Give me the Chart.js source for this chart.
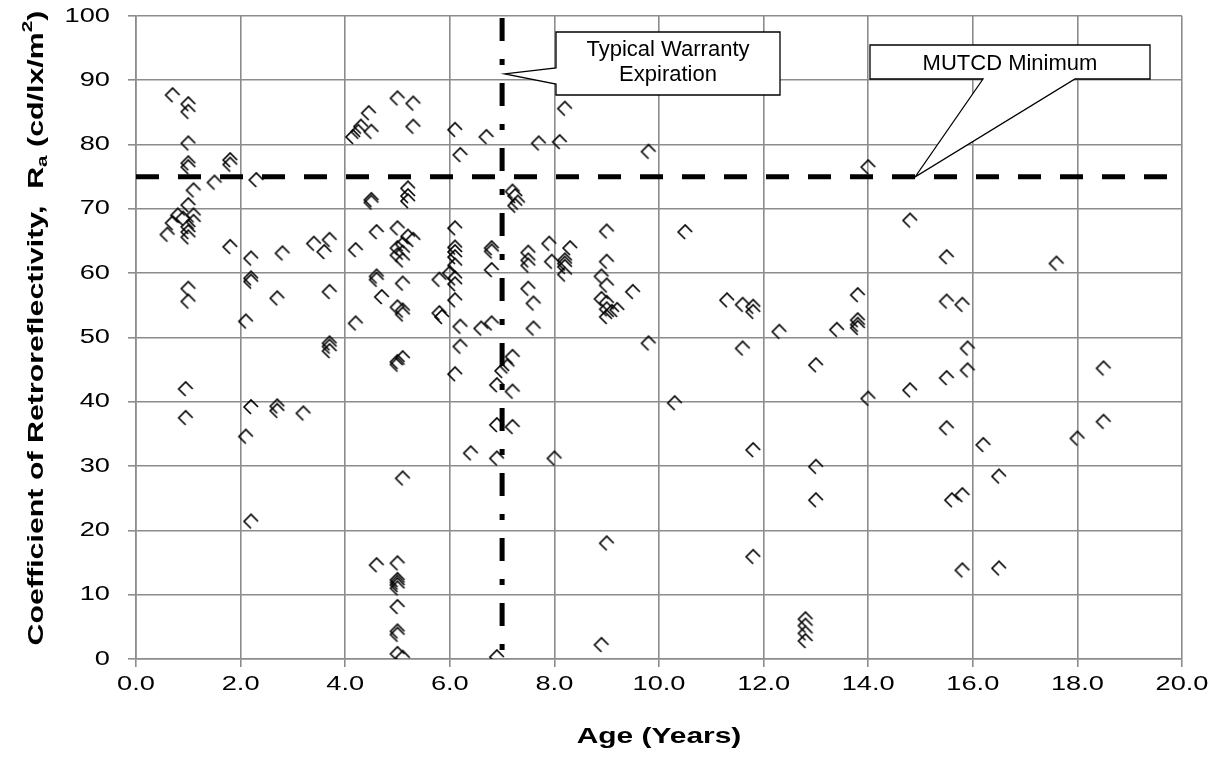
<!DOCTYPE html>
<html>
<head>
<meta charset="utf-8">
<script src="https://cdn.jsdelivr.net/npm/chart.js@4/dist/chart.umd.min.js"></script>
<style>
  html, body { margin: 0; padding: 0; background: #fff; }
  #wrap { width: 1220px; height: 769px; }
</style>
</head>
<body>
<div id="wrap"><canvas id="retroChart"></canvas></div>
<script>
const ageYears = [
  0.7, 1.0, 1.0, 1.0, 1.0, 1.0, 1.1, 1.0, 0.8, 0.7, 0.6, 0.9, 1.0, 1.0, 1.0, 1.1, 1.1, 1.0, 1.0, 0.95, 0.95,
  1.5, 1.8, 1.8, 2.3, 1.8, 2.2, 2.8, 2.2, 2.2, 2.7, 2.1, 2.2, 2.7, 2.7, 3.2, 2.1, 2.2,
  3.4, 3.7, 3.6, 3.7, 3.7, 3.7, 3.7, 4.2, 4.2, 4.15, 4.25, 4.3, 4.45, 4.5, 4.5, 4.5, 4.6, 4.6, 4.6, 4.7, 4.6,
  5.0, 5.3, 5.3, 5.2, 5.2, 5.2, 5.0, 5.2, 5.3, 5.0, 5.1, 5.0, 5.1, 5.1, 5.1, 5.0, 5.1, 5.1, 5.0, 5.1, 5.0, 5.1,
  5.0, 5.0, 5.0, 5.0, 5.0, 5.0, 5.0, 5.0, 5.0, 5.1,
  5.8, 5.8, 5.85, 6.1, 6.7, 6.2, 6.1, 6.1, 6.1, 6.1, 6.1, 6.0, 6.1, 6.1, 6.1, 6.2, 6.2, 6.1, 6.6, 6.8, 6.8, 6.8,
  6.8, 6.9, 6.9, 6.4, 6.9, 6.9,
  7.2, 7.25, 7.3, 7.25, 7.7, 7.5, 7.5, 7.5, 7.5, 7.6, 7.6, 7.9, 7.95, 7.2, 7.1, 7.0, 7.2, 7.2, 8.0, 8.2, 8.1,
  8.3, 8.2, 8.2, 8.2, 8.2,
  9.8, 9.0, 10.5, 9.0, 8.9, 9.0, 9.5, 8.9, 9.0, 9.0, 9.1, 9.2, 9.0, 9.8, 10.3, 9.0, 8.9,
  11.3, 11.6, 11.8, 11.8, 11.6, 12.3, 11.8, 11.8, 12.8, 12.8, 12.8, 12.8,
  14.0, 14.8, 15.5, 13.8, 15.5, 15.8, 13.4, 13.8, 13.8, 13.8, 15.9, 13.0, 15.5, 15.9, 14.8, 14.0, 15.5, 16.2,
  13.0, 13.0, 15.6, 15.8, 16.5, 15.8, 16.5, 17.6, 18.5, 18.5, 18.0
];
const retroValues = [
  87.7, 86.3, 85.1, 80.2, 77.1, 76.5, 72.9, 70.6, 69.0, 67.8, 66.0, 68.5, 67.2, 66.4, 65.6, 69.0, 68.0, 57.6, 55.6, 42.0, 37.5,
  74.1, 77.6, 76.9, 74.5, 64.1, 62.3, 63.1, 59.2, 58.7, 56.1, 52.5, 39.2, 39.3, 38.6, 38.2, 34.6, 21.4,
  64.6, 65.2, 63.3, 57.1, 49.1, 48.6, 47.9, 63.6, 52.2, 81.2, 82.0, 82.8, 84.9, 82.0, 71.4, 71.0, 66.4, 59.5, 59.0, 56.3, 14.6,
  87.2, 86.4, 82.8, 73.2, 72.0, 71.2, 67.0, 65.7, 65.2, 63.9, 63.2, 62.8, 62.0, 64.5, 58.4, 54.7, 54.2, 53.6, 46.2, 46.8, 45.8, 28.1,
  14.9, 12.3, 11.9, 11.5, 11.0, 8.1, 4.3, 3.8, 0.8, 0.2,
  59.0, 53.8, 53.2, 82.3, 81.2, 78.4, 67.0, 64.0, 63.3, 62.5, 61.2, 60.0, 59.2, 58.3, 55.8, 51.7, 48.6, 44.3, 51.4, 52.2, 63.9, 63.4,
  60.5, 42.6, 36.4, 32.0, 31.2, 0.3,
  72.7, 72.0, 71.0, 70.5, 80.2, 63.2, 62.0, 61.2, 57.6, 55.3, 51.4, 64.6, 61.8, 47.0, 45.5, 44.8, 41.6, 36.1, 31.2, 85.6, 80.4,
  63.9, 62.0, 61.5, 61.0, 59.8,
  78.9, 66.5, 66.4, 61.8, 59.5, 58.1, 57.1, 56.0, 55.4, 54.4, 54.0, 54.3, 53.2, 49.1, 39.8, 18.0, 2.2,
  55.8, 55.1, 54.8, 54.0, 48.3, 50.9, 32.5, 15.9, 6.2, 5.2, 4.0, 2.8,
  76.5, 68.2, 62.5, 56.6, 55.6, 55.1, 51.2, 52.7, 52.0, 51.5, 48.3, 45.7, 43.7, 44.9, 41.8, 40.5, 35.9, 33.3,
  29.9, 24.7, 24.7, 25.5, 28.4, 13.8, 14.1, 61.5, 45.2, 36.9, 34.3
];
const xTickValues = [0, 2, 4, 6, 8, 10, 12, 14, 16, 18, 20];
const warrantyAge = 7;
const mutcdMinimum = 75;
const warrantyTip = [7.05, 91];
const mutcdTip = [14.9, 75];

const GRID = '#8c8c8c';
const FONT = "'Liberation Sans', Arial, sans-serif";
const STRETCH = 1.36;   // the original text is drawn wide

function makeMarker() {
  const c = document.createElement('canvas');
  c.width = 18; c.height = 18;
  const g = c.getContext('2d');
  g.strokeStyle = '#000';
  g.lineWidth = 1.6;
  g.beginPath();
  g.moveTo(16, 9);   // right
  g.lineTo(9, 2);    // top
  g.lineTo(2, 9);    // left
  g.lineTo(9, 16);   // bottom
  g.stroke();
  return c;
}

function callout(ctx, pts) {
  ctx.beginPath();
  ctx.moveTo(pts[0][0], pts[0][1]);
  for (let i = 1; i < pts.length; i++) ctx.lineTo(pts[i][0], pts[i][1]);
  ctx.closePath();
  ctx.fillStyle = '#fff';
  ctx.fill();
  ctx.strokeStyle = '#000';
  ctx.lineWidth = 1.3;
  ctx.stroke();
  ctx.fillStyle = '#000';
}

function wideText(ctx, text, x, y, align) {
  ctx.save();
  ctx.translate(x, y);
  ctx.scale(STRETCH, 1);
  ctx.textAlign = align;
  ctx.fillText(text, 0, 0);
  ctx.restore();
}

const extrasPlugin = {
  id: 'extras',
  afterDatasetsDraw(chart) {
    const ctx = chart.ctx;
    const xs = chart.scales.x, ys = chart.scales.y;
    ctx.save();
    // Typical Warranty callout, wedge on left side
    const wt = [xs.getPixelForValue(warrantyTip[0]), ys.getPixelForValue(warrantyTip[1])];
    callout(ctx, [[556, 32], [780, 32], [780, 95], [556, 95], [556, 84], wt, [556, 68]]);
    ctx.font = '22px ' + FONT;
    ctx.textAlign = 'center';
    ctx.textBaseline = 'alphabetic';
    ctx.fillText('Typical Warranty', 668, 56);
    ctx.fillText('Expiration', 668, 81);
    // MUTCD callout, wedge on bottom
    const mt = [xs.getPixelForValue(mutcdTip[0]), ys.getPixelForValue(mutcdTip[1])];
    callout(ctx, [[870, 45], [1150, 45], [1150, 79], [1075, 79], mt, [983, 79], [870, 79]]);
    ctx.font = '22px ' + FONT;
    ctx.fillText('MUTCD Minimum', 1010, 70);

    // tick labels
    ctx.fillStyle = '#000';
    ctx.textBaseline = 'middle';
    ctx.font = '20px ' + FONT;
    ys.ticks.forEach(t => wideText(ctx, String(t.value), 110, ys.getPixelForValue(t.value), 'right'));
    xs.ticks.forEach(t => wideText(ctx, t.value.toFixed(1), xs.getPixelForValue(t.value), 684, 'center'));

    // x axis title
    ctx.font = 'bold 22px ' + FONT;
    wideText(ctx, 'Age (Years)', (chart.chartArea.left + chart.chartArea.right) / 2, 737, 'center');

    // y axis title with subscript / superscript
    const parts = [
      ['Coefficient of Retroreflectivity,  R', 22, 0],
      ['a', 15, 6],
      [' (cd/lx/m', 22, 0],
      ['2', 15, -9],
      [')', 22, 0]
    ];
    let total = 0;
    parts.forEach(p => { ctx.font = 'bold ' + p[1] + 'px ' + FONT; total += ctx.measureText(p[0]).width; });
    ctx.translate(37, 328);
    ctx.rotate(-Math.PI / 2);
    ctx.scale(1.38, 1);
    ctx.textAlign = 'left';
    let x = -total / 2;
    parts.forEach(p => {
      ctx.font = 'bold ' + p[1] + 'px ' + FONT;
      ctx.fillText(p[0], x, p[2]);
      x += ctx.measureText(p[0]).width;
    });
    ctx.restore();
  }
};

const points = ageYears.map((a, i) => ({ x: a, y: retroValues[i] }));

new Chart(document.getElementById('retroChart'), {
  type: 'scatter',
  data: {
    datasets: [{
      label: 'Ra',
      data: points,
      pointStyle: makeMarker(),
      pointRadius: 8,
      order: 1
    }, {
      label: 'MUTCD Minimum',
      data: [{ x: 0, y: mutcdMinimum }, { x: 20, y: mutcdMinimum }],
      showLine: true,
      borderColor: '#000',
      borderWidth: 5,
      borderDash: [23, 19],
      pointRadius: 0,
      order: 2
    }, {
      label: 'Warranty',
      data: [{ x: warrantyAge, y: 100 }, { x: warrantyAge, y: 0 }],
      showLine: true,
      borderColor: '#000',
      borderWidth: 5,
      borderDash: [23, 18, 6, 18],
      borderDashOffset: -2,
      pointRadius: 0,
      order: 2
    }]
  },
  options: {
    responsive: true,
    maintainAspectRatio: false,
    animation: false,
    layout: { padding: { top: 16, right: 38, left: 0, bottom: 0 } },
    plugins: {
      legend: { display: false },
      tooltip: { enabled: false }
    },
    scales: {
      x: {
        type: 'linear',
        min: 0, max: 20,
        afterBuildTicks: s => { s.ticks = xTickValues.map(v => ({ value: v })); },
        afterFit: s => { s.height = 110; },
        ticks: { color: 'rgba(0,0,0,0)', font: { size: 20 }, maxRotation: 0 },
        grid: { color: GRID, lineWidth: 1.6, tickLength: 8, tickColor: GRID },
        border: { color: GRID, width: 1.6 }
      },
      y: {
        min: 0, max: 100,
        afterFit: s => { s.width = 136; },
        ticks: { stepSize: 10, color: 'rgba(0,0,0,0)', font: { size: 20 } },
        grid: { color: GRID, lineWidth: 1.6, tickLength: 8, tickColor: GRID },
        border: { color: GRID, width: 1.6 }
      }
    }
  },
  plugins: [extrasPlugin]
});
</script>
</body>
</html>
